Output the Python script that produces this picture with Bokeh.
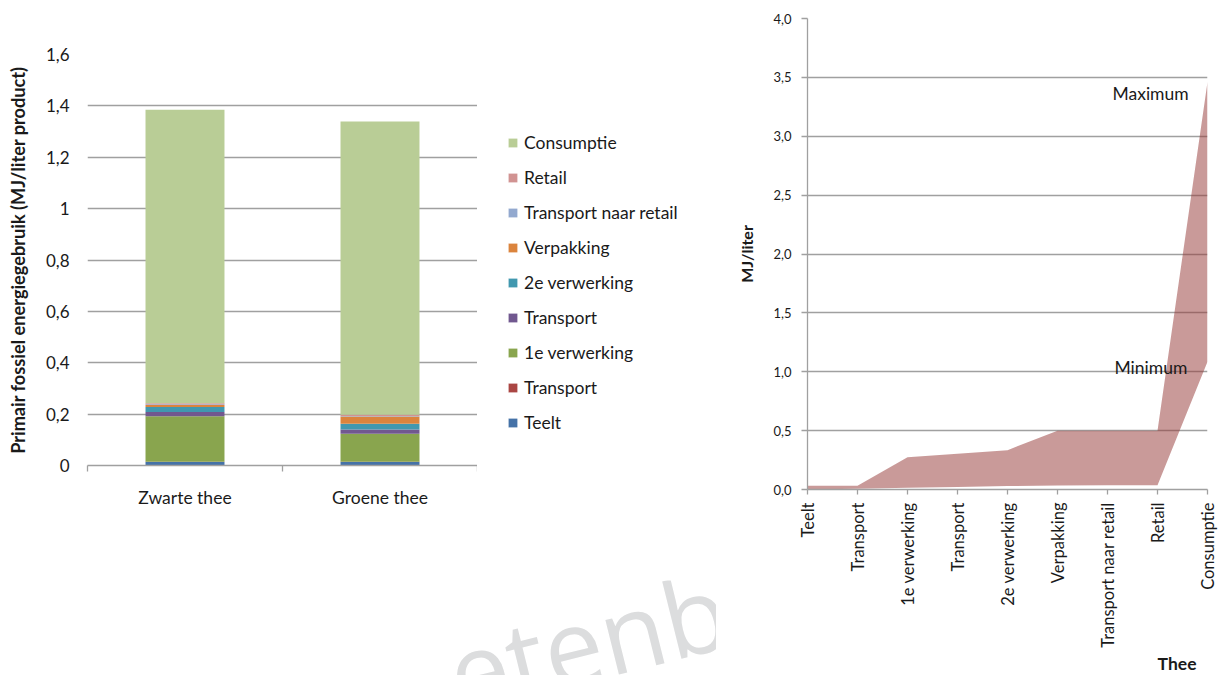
import math
from bokeh.plotting import figure
from bokeh.models import (Range1d, LinearAxis, FixedTicker, Legend, LegendItem, Label, Title)
from bokeh.layouts import row, column
from bokeh.core.properties import value
from bokeh.embed import file_html
from bokeh.resources import INLINE

# ---------------- data: left stacked bar chart ----------------
teas = ["Zwarte thee", "Groene thee"]
teelt = [0.014, 0.014]
transport_1 = [0.001, 0.001]
verwerking_1 = [0.177, 0.109]
transport_2 = [0.016, 0.016]
verwerking_2 = [0.020, 0.023]
verpakking = [0.008, 0.028]
transport_retail = [0.002, 0.002]
retail = [0.004, 0.005]
consumptie = [1.143, 1.141]

series_keys = ["teelt", "transport_1", "verwerking_1", "transport_2", "verwerking_2",
               "verpakking", "transport_retail", "retail", "consumptie"]
series_labels = ["Teelt", "Transport", "1e verwerking", "Transport", "2e verwerking",
                 "Verpakking", "Transport naar retail", "Retail", "Consumptie"]
series_colors = ["#4572A7", "#AA4643", "#89A54E", "#71588F", "#4198AF",
                 "#DB843D", "#93A9CF", "#D19392", "#B9CD96"]
left_ticks = [0, 0.2, 0.4, 0.6, 0.8, 1.0, 1.2, 1.4, 1.6]
left_tick_labels = ["0", "0,2", "0,4", "0,6", "0,8", "1", "1,2", "1,4", "1,6"]

# ---------------- data: right range chart ----------------
stages = ["Teelt", "Transport", "1e verwerking", "Transport", "2e verwerking",
          "Verpakking", "Transport naar retail", "Retail", "Consumptie"]
min_vals = [0.0, 0.006, 0.014, 0.022, 0.029, 0.034, 0.037, 0.037, 1.085]
max_vals = [0.031, 0.031, 0.274, 0.303, 0.334, 0.50, 0.50, 0.50, 3.46]
right_ticks = [0, 0.5, 1.0, 1.5, 2.0, 2.5, 3.0, 3.5, 4.0]
right_tick_labels = ["0,0", "0,5", "1,0", "1,5", "2,0", "2,5", "3,0", "3,5", "4,0"]

watermark_text = ["etenb"]

FONT = "Lato"
TXT = "#1a1a1a"
GRID = "#A0A0A0"
FS = "17.5px"

def bare(fig):
    fig.xgrid.grid_line_color = None
    fig.ygrid.grid_line_color = None

# ================= LEFT FIGURE =================
tea_pos = [i + 0.5 for i in range(len(teas))]        # category centres
tea_edges = list(range(len(teas) + 1))               # category boundaries

left = figure(x_range=Range1d(0, len(teas)), y_range=Range1d(0, 1.6),
              width=477, height=580, frame_align=False,
              min_border_left=87, min_border_right=0, min_border_top=54, min_border_bottom=115,
              output_backend="svg", toolbar_location=None, x_axis_location=None,
              outline_line_color=None, background_fill_color="white", border_fill_color="white")

src = {"pos": tea_pos, "teas": teas}
for k, v in zip(series_keys, [teelt, transport_1, verwerking_1, transport_2, verwerking_2,
                              verpakking, transport_retail, retail, consumptie]):
    src[k] = v
bars = left.vbar_stack(series_keys, x="pos", width=0.405, color=series_colors,
                       line_color=None, source=src)

left.xgrid.grid_line_color = None
left.ygrid.grid_line_color = GRID
left.ygrid.grid_line_width = 1.3
left.ygrid.ticker = FixedTicker(ticks=left_ticks)

ya = left.yaxis[0]
ya.ticker = FixedTicker(ticks=left_ticks)
ya.major_label_overrides = {t: l for t, l in zip(left_ticks, left_tick_labels)}
ya.axis_line_color = None
ya.major_tick_line_color = None
ya.minor_tick_line_color = None
ya.major_tick_out = 0
ya.major_tick_in = 0
ya.major_label_standoff = 18
ya.major_label_text_font = FONT
ya.major_label_text_font_size = "17px"
ya.major_label_text_color = TXT
ya.axis_label = "Primair fossiel energiegebruik (MJ/liter product)"
ya.axis_label_text_font = FONT
ya.axis_label_text_font_style = "bold"
ya.axis_label_text_font_size = "18.2px"
ya.axis_label_text_color = TXT
ya.axis_label_standoff = 14

edge_axis = LinearAxis(ticker=FixedTicker(ticks=tea_edges),
                       major_label_overrides={e: "" for e in tea_edges},
                       major_label_text_font_size="1px", major_label_standoff=0,
                       major_tick_out=6, major_tick_in=0,
                       axis_line_color=GRID, axis_line_width=1.3,
                       major_tick_line_color=GRID, major_tick_line_width=1.3,
                       minor_tick_line_color=None)
left.add_layout(edge_axis, "below")
cat_axis = LinearAxis(ticker=FixedTicker(ticks=tea_pos),
                      major_label_overrides={p: t for p, t in zip(tea_pos, teas)},
                      axis_line_color=None, major_tick_line_color=None,
                      minor_tick_line_color=None,
                      major_tick_out=0, major_tick_in=0,
                      major_label_standoff=15, major_label_text_font=FONT,
                      major_label_text_font_size=FS, major_label_text_color=TXT)
left.add_layout(cat_axis, "below")

# ---- legend panel beside the bars (its swatch bars lie outside its view) ----
leg = figure(x_range=Range1d(0, 1), y_range=Range1d(10, 11), width=239, height=580,
             frame_align=False, min_border=0, x_axis_location=None, y_axis_location=None,
             output_backend="svg", toolbar_location=None, outline_line_color=None,
             background_fill_color="white", border_fill_color="white")
bare(leg)
swatches = leg.vbar_stack(series_keys, x="pos", width=0.405, color=series_colors,
                          line_color=None, source=src)
items = [LegendItem(label=lab, renderers=[r]) for lab, r in zip(series_labels, swatches)]
items.reverse()
legend = Legend(items=items, location=(30, 147), orientation="vertical",
                glyph_width=11, glyph_height=11, label_height=21, spacing=14,
                label_standoff=6, padding=0, margin=0,
                border_line_color=None, background_fill_alpha=0,
                label_text_font=FONT, label_text_font_size=FS, label_text_color=TXT)
leg.add_layout(legend, "center")

# ---- watermark strip under the left chart ----
wm = figure(x_range=Range1d(0, 716), y_range=Range1d(0, 95), width=716, height=95,
            frame_align=False, min_border=0, x_axis_location=None, y_axis_location=None,
            output_backend="svg", toolbar_location=None, outline_line_color=None,
            background_fill_color="white", border_fill_color="white")
bare(wm)
wm.text(x=[432], y=[70], text=watermark_text, angle=0.244, text_font=value("Open Sans"),
        text_font_size="105px", text_color="#DCDDDE", text_baseline="top", text_align="left")

# ================= RIGHT FIGURE =================
stage_idx = list(range(len(stages)))
right = figure(x_range=Range1d(0, len(stages) - 1), y_range=Range1d(0, 4),
               width=507, height=675, frame_align=False,
               min_border_left=91, min_border_right=16, min_border_top=18, min_border_bottom=186,
               output_backend="svg", toolbar_location=None,
               outline_line_color=None, background_fill_color="white", border_fill_color="white")

right.varea(x=stage_idx, y1=min_vals, y2=max_vals, fill_color="#943634", fill_alpha=0.5)

right.xgrid.grid_line_color = None
right.ygrid.grid_line_color = GRID
right.ygrid.grid_line_width = 1.3
right.ygrid.ticker = FixedTicker(ticks=right_ticks)

rya = right.yaxis[0]
rya.ticker = FixedTicker(ticks=right_ticks)
rya.major_label_overrides = {t: l for t, l in zip(right_ticks, right_tick_labels)}
rya.axis_line_color = GRID
rya.axis_line_width = 1.3
rya.major_tick_line_color = GRID
rya.major_tick_line_width = 1.3
rya.minor_tick_line_color = None
rya.major_tick_out = 6
rya.major_tick_in = 0
rya.major_label_standoff = 10
rya.major_label_text_font = FONT
rya.major_label_text_font_size = "13px"
rya.major_label_text_color = TXT
rya.axis_label = "MJ/liter"
rya.axis_label_text_font = FONT
rya.axis_label_text_font_style = "bold"
rya.axis_label_text_font_size = "16px"
rya.axis_label_text_color = TXT
rya.axis_label_standoff = 14

rxa = right.xaxis[0]
rxa.ticker = FixedTicker(ticks=stage_idx)
rxa.major_label_overrides = {i: s for i, s in zip(stage_idx, stages)}
rxa.major_label_orientation = math.pi / 2
rxa.axis_line_color = GRID
rxa.axis_line_width = 1.3
rxa.major_tick_line_color = GRID
rxa.major_tick_line_width = 1.3
rxa.minor_tick_line_color = None
rxa.major_tick_out = 5
rxa.major_tick_in = 0
rxa.major_label_standoff = 8
rxa.major_label_text_font = FONT
rxa.major_label_text_font_size = "16.5px"
rxa.major_label_text_color = TXT

right.add_layout(Title(text="Thee", align="right", offset=11, standoff=0,
                       text_font=FONT, text_font_style="bold", text_font_size=FS,
                       text_color=TXT), "below")

right.add_layout(Label(x=6.1, y=3.366, text="Maximum", text_baseline="middle",
                       text_font=FONT, text_font_size=FS, text_color=TXT))
right.add_layout(Label(x=6.14, y=1.039, text="Minimum", text_baseline="middle",
                       text_font=FONT, text_font_size=FS, text_color=TXT))

layout = row(column(row(left, leg), wm), right)
open("out.html", "w").write(file_html(layout, INLINE))
